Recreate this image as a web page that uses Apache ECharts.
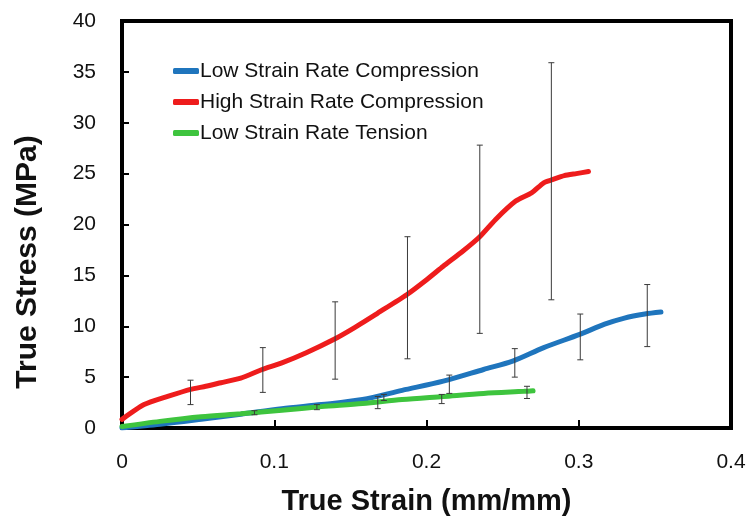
<!DOCTYPE html>
<html>
<head>
<meta charset="utf-8">
<script src="https://cdn.jsdelivr.net/npm/echarts@6/dist/echarts.min.js"></script>
<style>html,body{margin:0;padding:0;background:#fff}#c{width:753px;height:524px}</style>
</head>
<body>
<div id="c"></div>
<script>
var seriesNames = ['Low Strain Rate Compression', 'High Strain Rate Compression', 'Low Strain Rate Tension'];
var lowCompression = [[0,0],[0.025,0.36],[0.052,0.85],[0.078,1.35],[0.105,1.9],[0.131,2.3],[0.158,2.8],[0.184,3.7],[0.211,4.6],[0.2375,5.75],[0.257,6.6],[0.277,7.9],[0.3006,9.2],[0.317,10.2],[0.330,10.8],[0.3434,11.2],[0.354,11.4]];
var highCompression = [[0,0.85],[0.0145,2.3],[0.030,3.1],[0.045,3.8],[0.055,4.1],[0.065,4.45],[0.078,4.9],[0.092,5.75],[0.105,6.4],[0.121,7.4],[0.139,8.7],[0.1525,9.85],[0.168,11.3],[0.187,13.1],[0.2003,14.6],[0.211,15.9],[0.224,17.4],[0.235,18.8],[0.2454,20.5],[0.2586,22.3],[0.269,23.1],[0.277,24.1],[0.2826,24.4],[0.2905,24.8],[0.2984,25.0],[0.3064,25.2]];
var lowTension = [[0,0.15],[0.025,0.65],[0.052,1.1],[0.078,1.4],[0.105,1.75],[0.131,2.1],[0.158,2.4],[0.184,2.8],[0.211,3.1],[0.2375,3.4],[0.264,3.6],[0.270,3.65]];
// error bars: [x, low, high]
var lowCompressionErr = [[0.087,1.3,1.7],[0.128,1.8,2.3],[0.172,2.7,3.3],[0.215,3.4,5.2],[0.258,5.0,7.8],[0.301,6.7,11.2],[0.345,8.0,14.1]];
var highCompressionErr = [[0.045,2.3,4.7],[0.0925,3.5,7.9],[0.14,4.8,12.4],[0.1875,6.8,18.8],[0.235,9.3,27.8],[0.282,12.6,35.9]];
var lowTensionErr = [[0.168,1.9,3.1],[0.21,2.4,3.3],[0.266,2.9,4.1]];
var xTicks = [0, 0.1, 0.2, 0.3, 0.4];
var yTicks = [0, 5, 10, 15, 20, 25, 30, 35, 40];
var xTitle = 'True Strain (mm/mm)';
var yTitle = 'True Stress (MPa)';
var colors = ['#1f75bd', '#ee1c1c', '#3ec43e'];

var allErr = lowCompressionErr.concat(highCompressionErr).concat(lowTensionErr);

function errRender(params, api) {
  var x = api.value(0);
  var lo = api.coord([x, api.value(1)]);
  var hi = api.coord([x, api.value(2)]);
  var cap = 3;
  var st = {stroke: '#3a3a3a', lineWidth: 1};
  return {
    type: 'group',
    children: [
      {type: 'line', shape: {x1: lo[0], y1: lo[1], x2: hi[0], y2: hi[1]}, style: st},
      {type: 'line', shape: {x1: lo[0]-cap, y1: lo[1], x2: lo[0]+cap, y2: lo[1]}, style: st},
      {type: 'line', shape: {x1: hi[0]-cap, y1: hi[1], x2: hi[0]+cap, y2: hi[1]}, style: st}
    ]
  };
}

var chart = echarts.init(document.getElementById('c'));
var font = '"Liberation Sans", Arial, sans-serif';
chart.setOption({
  animation: false,
  backgroundColor: '#fff',
  grid: {left: 122, right: 22, top: 21, bottom: 96, show: true, borderColor: '#000', borderWidth: 4, backgroundColor: '#fff'},
  legend: {
    orient: 'vertical', left: 168, top: 55, itemWidth: 26, itemHeight: 6, itemGap: 9,
    icon: 'roundRect',
    data: seriesNames,
    textStyle: {fontFamily: font, fontSize: 21, color: '#111', padding: [0,0,0,-4], lineHeight: 22}
  },
  graphic: [{
    type: 'text', x: 28, y: 262, rotation: Math.PI / 2,
    style: {text: yTitle, fontFamily: font, fontSize: 30, fontWeight: 'bold', fill: '#111', align: 'center', verticalAlign: 'middle'}
  }],
  xAxis: {
    type: 'value', min: 0, max: 0.4, interval: 0.1,
    name: xTitle, nameLocation: 'middle', nameGap: 59,
    nameTextStyle: {fontFamily: font, fontSize: 29, fontWeight: 'bold', color: '#111'},
    axisLine: {show: false},
    axisTick: {show: true, inside: true, length: 8, lineStyle: {color: '#000', width: 2}},
    axisLabel: {fontFamily: font, fontSize: 21, color: '#111', margin: 24,
      formatter: function(v){ return xTicks.indexOf(Math.round(v*10)/10) >= 0 ? String(Math.round(v*10)/10) : ''; }},
    splitLine: {show: false}
  },
  yAxis: {
    type: 'value', min: 0, max: 40, interval: 5,
    axisLine: {show: false},
    axisTick: {show: true, inside: true, length: 7, lineStyle: {color: '#000', width: 2}},
    axisLabel: {fontFamily: font, fontSize: 21, color: '#111', margin: 26,
      formatter: function(v){ return yTicks.indexOf(v) >= 0 ? String(v) : ''; }},
    splitLine: {show: false}
  },
  series: [
    {name: seriesNames[0], type: 'line', data: lowCompression, showSymbol: false, smooth: 0.3, color: colors[0], lineStyle: {width: 5, cap: 'round'}, z: 2},
    {name: seriesNames[1], type: 'line', data: highCompression, showSymbol: false, smooth: 0.2, color: colors[1], lineStyle: {width: 5, cap: 'round'}, z: 3},
    {name: seriesNames[2], type: 'line', data: lowTension, showSymbol: false, smooth: 0.3, color: colors[2], lineStyle: {width: 5, cap: 'round'}, z: 4},
    {type: 'custom', renderItem: errRender, data: allErr, encode: {x: 0, y: [1, 2]}, z: 10, silent: true}
  ]
});
</script>
</body>
</html>
